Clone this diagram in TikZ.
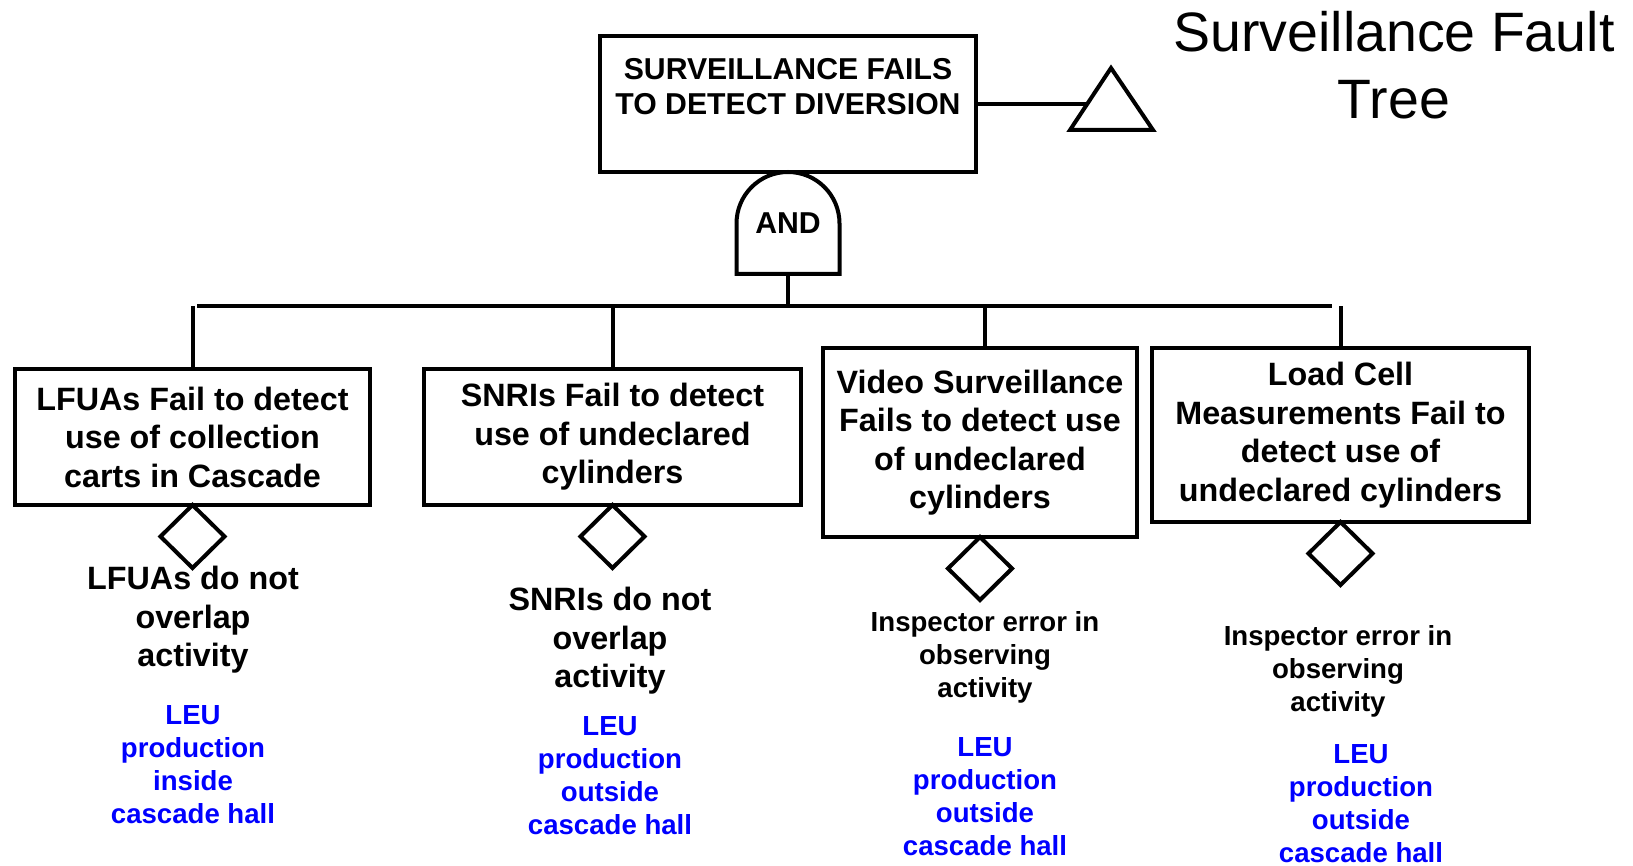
\documentclass[tikz,border=0pt]{standalone}
\usepackage{fontspec}
\setmainfont{Liberation Sans}
\usepackage{xcolor}
\usepackage{tikz}
\usetikzlibrary{positioning,shapes.geometric}
\definecolor{leuB}{HTML}{0000FF}

\begin{document}
\begin{tikzpicture}[
  x=1pt, y=-1pt,
  every node/.style={inner sep=0pt, outer sep=0pt},
  big/.style={font=\bfseries\fontsize{32.3}{38.5}\selectfont, align=center},
  small/.style={font=\bfseries\fontsize{27.6}{33}\selectfont, align=center},
  event/.style={rectangle, draw, line width=4pt, big},
  cond/.style={diamond, draw, line width=4pt, minimum width=64pt, minimum height=63pt},
  link/.style={line width=4pt},
  leu/.style={small, text=leuB}
]
  \useasboundingbox (0,0) rectangle (1633,866);

  % top event, transfer symbol and title
  \node[event, minimum width=376pt, minimum height=136pt,
        font=\bfseries\fontsize{30.2}{35}\selectfont] (top) at (788,104)
        {SURVEILLANCE FAILS\\TO DETECT DIVERSION\\ \mbox{}};
  \coordinate (tri) at (1088,104);
  \draw[link] (1111,68) -- (1153,130) -- (1070,130) -- cycle;
  \draw[link] (top.east) -- (tri);
  \node[font=\fontsize{55.5}{67}\selectfont, align=center] (title) at (1394,65)
        {Surveillance Fault\\Tree};

  % AND gate
  \node[font=\bfseries\fontsize{30.2}{35}\selectfont,
        minimum width=103pt, minimum height=102pt] (and) at (788,223) {AND};
  \draw[link] (and.south west) -- ++(0,-50.5)
        arc[start angle=180, end angle=0, radius=51.5pt] -- (and.south east) -- cycle;

  % bus
  \coordinate (busL) at (197,306);
  \coordinate (busR) at (1332,306);
  \draw[link] (busL) -- (busR);
  \draw[link] (and.south) -- (and.south |- busL);

  % basic events
  \node[event, minimum width=355pt, minimum height=136pt] (b1) at (192.5,437)
        {LFUAs Fail to detect\\use of collection\\carts in Cascade};
  \node[event, minimum width=377pt, minimum height=136pt] (b2) at (612.5,437)
        {SNRIs Fail to detect\\use of undeclared\\cylinders\vphantom{g}};
  \node[event, minimum width=314pt, minimum height=189pt] (b3) at (980,442.5)
        {Video Surveillance\\Fails to detect use\\of undeclared\\cylinders};
  \node[event, minimum width=377pt, minimum height=174pt] (b4) at (1340.5,435)
        {Load Cell\\Measurements Fail to\\detect use of\\undeclared cylinders};
  \draw[link] (b1.north) -- (b1.north |- busL);
  \draw[link] (b2.north) -- (b2.north |- busL);
  \draw[link] ([xshift=5pt]b3.north) -- ([xshift=5pt]b3.north |- busL);
  \draw[link] (b4.north) -- (b4.north |- busL);

  % conditioning events
  \node[cond, below=0pt of b1] (d1) {};
  \node[cond, below=0pt of b2] (d2) {};
  \node[cond, below=0pt of b3] (d3) {};
  \node[cond, below=0pt of b4] (d4) {};

  \node[big] (e1) at (193,620) {LFUAs do not\\overlap\\activity};
  \node[big] (e2) at (610,641) {SNRIs do not\\overlap\\activity};
  \node[small] (e3) at (985,657) {Inspector error in\\observing\\activity};
  \node[small] (e4) at (1338,671) {Inspector error in\\observing\\activity};

  \node[leu] (l1) at (193,765) {LEU\\production\\inside\\cascade hall};
  \node[leu] (l2) at (610,775.5) {LEU\\production\\outside\\cascade hall};
  \node[leu] (l3) at (985,797) {LEU\\production\\outside\\cascade hall};
  \node[leu] (l4) at (1361,804) {LEU\\production\\outside\\cascade hall};
\end{tikzpicture}
\end{document}
